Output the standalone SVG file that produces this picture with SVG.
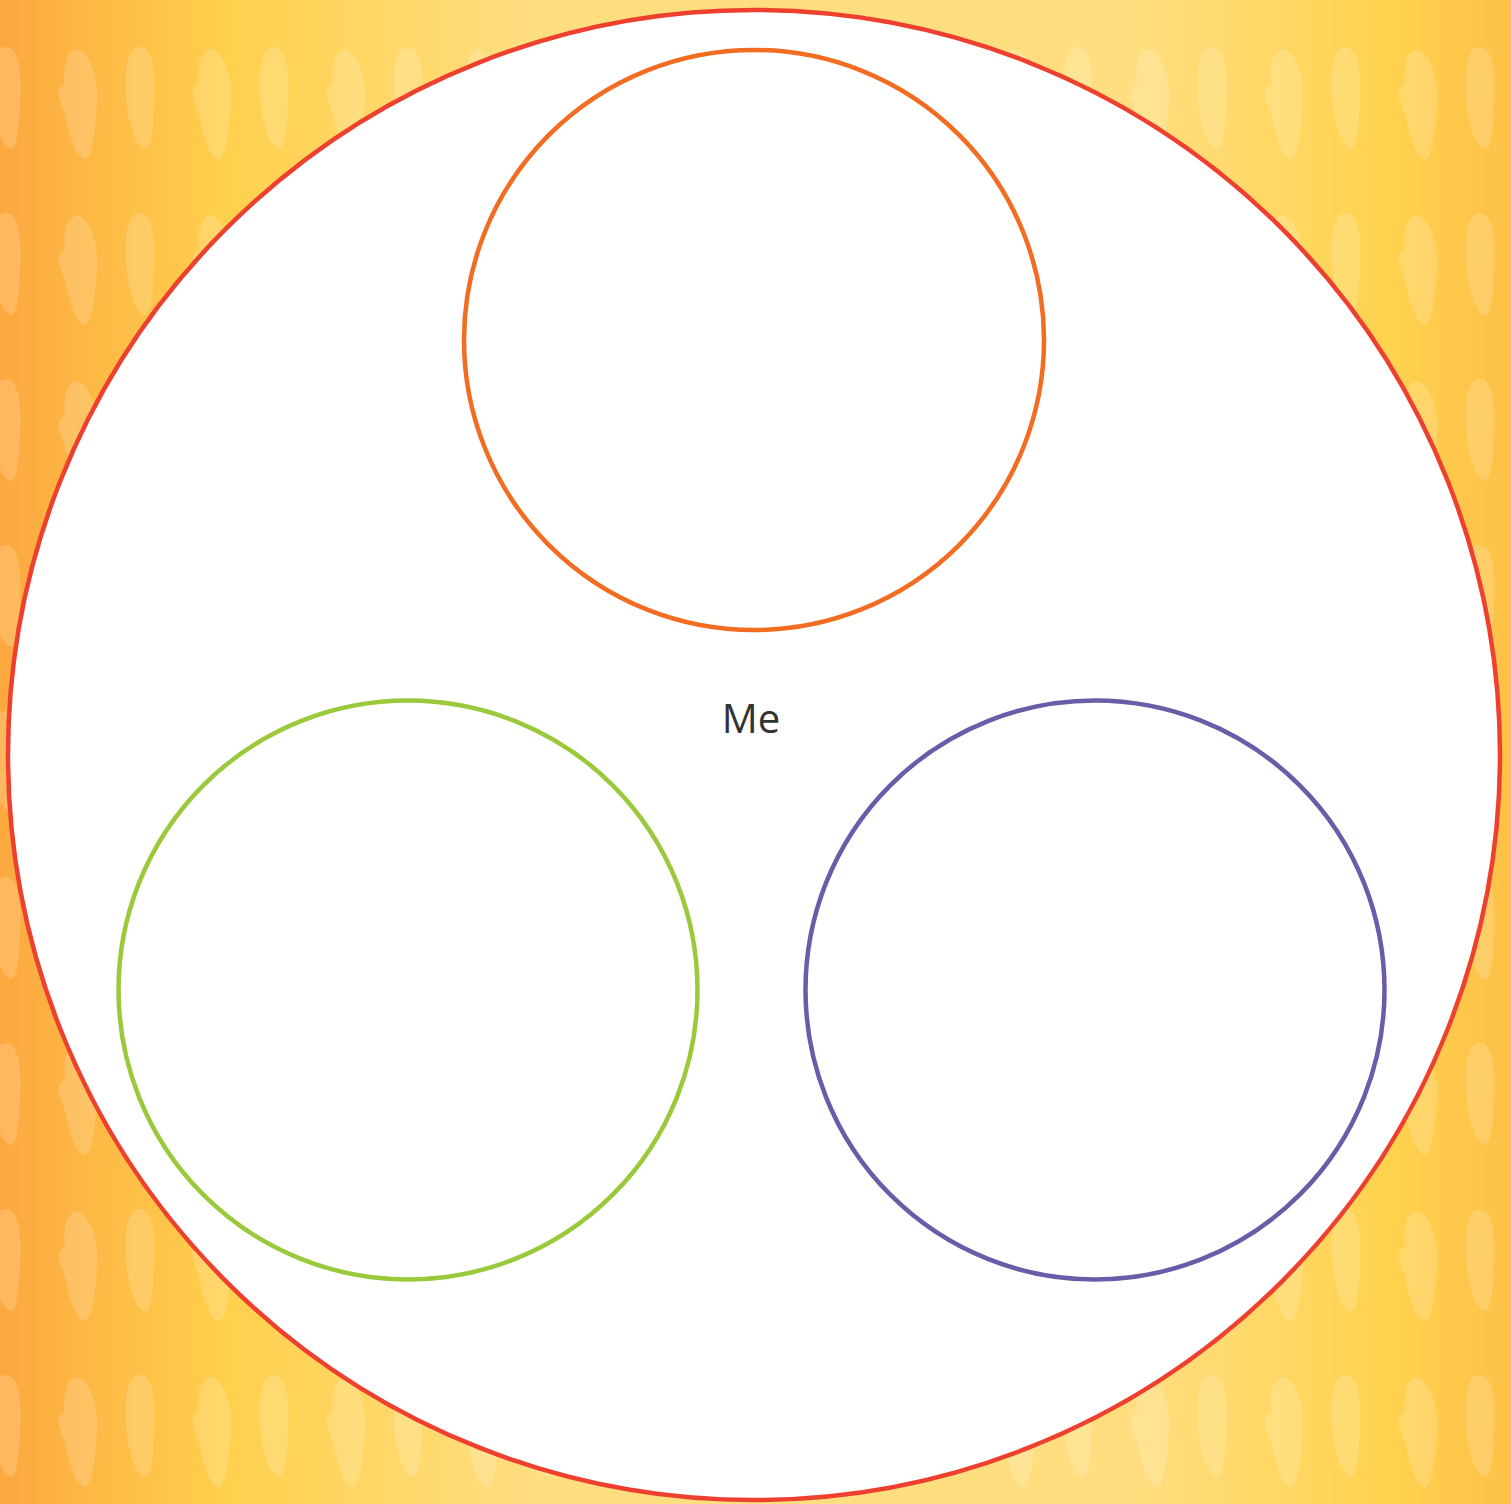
<svg xmlns="http://www.w3.org/2000/svg" width="1511" height="1504" viewBox="0 0 1511 1504">
<defs>
<linearGradient id="bg" gradientUnits="userSpaceOnUse" x1="0" y1="750" x2="1511" y2="750">
<stop offset="0" stop-color="#FCA83F"/>
<stop offset="0.15" stop-color="#FFD04D"/>
<stop offset="0.35" stop-color="#FFDE80"/>
<stop offset="0.75" stop-color="#FFDE80"/>
<stop offset="0.92" stop-color="#FFD24E"/>
<stop offset="1" stop-color="#FDC048"/>
</linearGradient>
<pattern id="blobs" x="-8" y="45" width="134" height="166" patternUnits="userSpaceOnUse">
<path d="M12 2 C26 0 30 25 28 55 C27 80 26 100 20 104 C10 104 2 80 0 52 C-2 25 2 4 12 2 Z" fill="#FFFFFF" fill-opacity="0.17"/>
<path d="M18 0 C32 4 40 30 38 55 C36 80 34 108 26 110 C16 108 10 85 6 65 C0 50 -4 40 6 35 C4 15 8 2 18 0 Z" fill="#FFFFFF" fill-opacity="0.17" transform="translate(67,4)"/>
</pattern>
<style>
.ring{fill:none;stroke-width:4.5}
.label{font-family:"Open Sans","Noto Sans",sans-serif;font-size:40px;fill:#333333;text-anchor:middle}
</style>
</defs>
<g id="background">
<rect x="0" y="0" width="1511" height="1504" fill="url(#bg)"/>
<rect x="0" y="0" width="1511" height="1504" fill="url(#blobs)"/>
</g>
<g id="me">
<ellipse cx="754" cy="755" rx="746" ry="745" fill="#FFFFFF" stroke="#EE402F" stroke-width="4.5"/>
<text class="label" x="751" y="733">Me</text>
</g>
<g id="circle-top">
<circle class="ring" cx="754" cy="340" r="290" stroke="#F26D21"/>
</g>
<g id="circle-left">
<circle class="ring" cx="408" cy="990" r="289.5" stroke="#9ACA3C"/>
</g>
<g id="circle-right">
<circle class="ring" cx="1095" cy="990" r="289.5" stroke="#6B5BA8"/>
</g>
<g id="connectors"/>
</svg>
